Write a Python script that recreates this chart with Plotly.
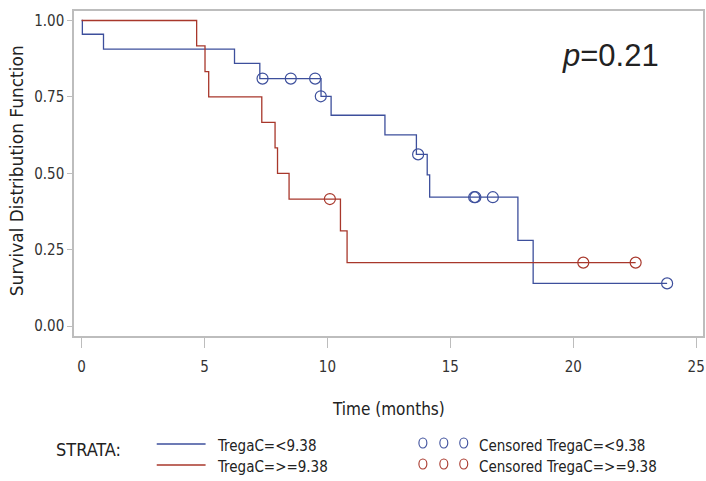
import plotly.graph_objects as go

# ---- data ----
low_times = [0.0, 0.03, 0.89, 6.22, 7.25, 9.74, 10.15, 12.34, 13.62, 14.06, 14.16, 17.75, 18.37]
low_surv = [1.0, 0.955, 0.906, 0.860, 0.810, 0.752, 0.690, 0.626, 0.562, 0.495, 0.422, 0.281, 0.140]
low_end = 23.82
low_cens_t = [7.36, 8.51, 9.50, 9.73, 13.69, 15.97, 16.02, 16.73, 23.82]
low_cens_s = [0.810, 0.810, 0.810, 0.752, 0.562, 0.422, 0.422, 0.422, 0.140]

high_times = [0.0, 4.68, 5.02, 5.17, 7.33, 7.87, 7.97, 8.44, 10.53, 10.80]
high_surv = [1.0, 0.917, 0.833, 0.750, 0.667, 0.583, 0.500, 0.416, 0.312, 0.208]
high_end = 22.54
high_cens_t = [10.10, 20.41, 22.54]
high_cens_s = [0.416, 0.208, 0.208]

x_ticks = [0, 5, 10, 15, 20, 25]
y_ticks = [0.0, 0.25, 0.5, 0.75, 1.0]
y_tick_text = ["0.00", "0.25", "0.50", "0.75", "1.00"]

BLUE = "#3d4f9c"
RED = "#a8372b"
GRID = "#bdbdbd"
FONT = "DejaVu Sans Condensed, Liberation Sans Narrow, Arial Narrow, sans-serif"
WIDE = "DejaVu Sans, sans-serif"

W, H = 706, 481
L, R, T, B = 74, 1, 11, 145


def px(x):
    return (x - L) / (W - L - R)


def py(y):
    return (H - B - y) / (H - T - B)


fig = go.Figure()

fig.add_trace(go.Scatter(x=low_times + [low_end], y=low_surv + [low_surv[-1]],
                         mode="lines", line=dict(color=BLUE, width=1.3, shape="hv"),
                         showlegend=False, hoverinfo="skip"))
fig.add_trace(go.Scatter(x=high_times + [high_end], y=high_surv + [high_surv[-1]],
                         mode="lines", line=dict(color=RED, width=1.3, shape="hv"),
                         showlegend=False, hoverinfo="skip"))
fig.add_trace(go.Scatter(x=low_cens_t, y=low_cens_s, mode="markers",
                         marker=dict(symbol="circle-open", size=11, color=BLUE, line=dict(width=1.2)),
                         showlegend=False))
fig.add_trace(go.Scatter(x=high_cens_t, y=high_cens_s, mode="markers",
                         marker=dict(symbol="circle-open", size=11, color=RED, line=dict(width=1.2)),
                         showlegend=False))

fig.update_xaxes(range=[-0.31, 25.28], tickvals=x_ticks, ticks="outside", ticklen=10,
                 tickcolor=GRID, showline=True, linecolor=GRID, linewidth=1.5, mirror=True,
                 showgrid=False, zeroline=False, ticklabelstandoff=6,
                 tickfont=dict(family=FONT, size=15, color="#333333"))
fig.update_yaxes(range=[-0.032, 1.031], tickvals=y_ticks, ticktext=y_tick_text, ticks="outside",
                 ticklen=5, tickcolor=GRID, showline=True, linecolor=GRID, linewidth=1.5, mirror=True,
                 showgrid=False, zeroline=False,
                 tickfont=dict(family=FONT, size=15, color="#333333"))

ann = [
    dict(x=px(390), y=py(409), text="Time (months)", font=dict(family=FONT, size=17, color="#222")),
    dict(x=px(17), y=py(171), text="Survival Distribution Function", textangle=-90,
         font=dict(family=WIDE, size=17, color="#222")),
    dict(x=px(612), y=py(55), text="<i>p</i>=0.21",
         font=dict(family="Liberation Sans, Arial, sans-serif", size=31, color="#222")),
    dict(x=px(89), y=py(449), text="STRATA:", font=dict(family=FONT, size=18, color="#222")),
    dict(x=px(215), y=py(446), text="TregaC=<9.38", xanchor="left", font=dict(family=FONT, size=15, color="#222")),
    dict(x=px(215), y=py(467), text="TregaC=>=9.38", xanchor="left", font=dict(family=FONT, size=15, color="#222")),
    dict(x=px(478), y=py(446), text="Censored TregaC=<9.38", xanchor="left", font=dict(family=FONT, size=15, color="#222")),
    dict(x=px(478), y=py(467), text="Censored TregaC=>=9.38", xanchor="left", font=dict(family=FONT, size=15, color="#222")),
]
for a in ann:
    a.update(xref="paper", yref="paper", showarrow=False)
    a.setdefault("xanchor", "center")
    a.setdefault("yanchor", "middle")

shapes = [
    dict(type="line", xref="paper", yref="paper", x0=px(157), x1=px(206), y0=py(444), y1=py(444),
         line=dict(color=BLUE, width=1.3)),
    dict(type="line", xref="paper", yref="paper", x0=px(157), x1=px(206), y0=py(465), y1=py(465),
         line=dict(color=RED, width=1.3)),
]
for cx in [424, 445, 465]:
    for cy, col in [(443, BLUE), (464, RED)]:
        shapes.append(dict(type="circle", xref="paper", yref="paper",
                           x0=px(cx - 4), x1=px(cx + 4), y0=py(cy - 5), y1=py(cy + 5),
                           line=dict(color=col, width=1.1)))

fig.update_layout(width=W, height=H, margin=dict(l=L, r=R, t=T, b=B),
                  paper_bgcolor="white", plot_bgcolor="white",
                  annotations=ann, shapes=shapes, showlegend=False)

fig.write_html("out.html", config={"displayModeBar": False},
               post_script="document.body.style.margin='0';")
